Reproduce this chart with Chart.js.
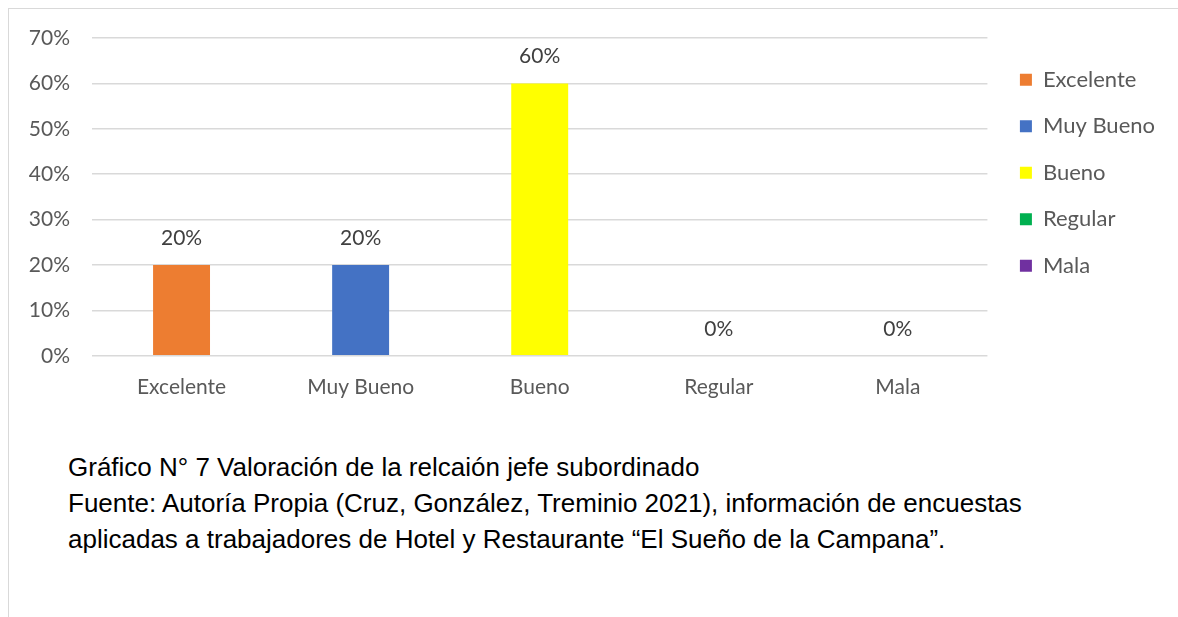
<!DOCTYPE html>
<html>
<head>
<meta charset="utf-8">
<script src="https://cdn.jsdelivr.net/npm/chart.js@4"></script>
<style>
  html, body { margin: 0; padding: 0; background: #fff; }
  body { width: 1178px; height: 617px; position: relative; overflow: hidden; }
  #frame { position: absolute; left: 8px; top: 8px; width: 1180px; height: 620px;
           border-left: 1px solid #d9d9d9; border-top: 1px solid #d9d9d9; }
  #wrap { position: absolute; left: 9px; top: 9px; width: 1169px; height: 402px; }
  #caption { position: absolute; left: 68px; top: 449px; font-family: "Liberation Sans", Arial, sans-serif;
             font-size: 26px; line-height: 36px; color: #000; white-space: nowrap; }
</style>
</head>
<body>
<div id="frame"></div>
<div id="wrap"><canvas id="c"></canvas></div>
<div id="caption">
  Gráfico N° 7 Valoración de la relcaión jefe subordinado<br>
  Fuente: Autoría Propia (Cruz, González, Treminio 2021), información de encuestas<br>
  aplicadas a trabajadores de Hotel y Restaurante “El Sueño de la Campana”.
</div>
<script>
const categories = ["Excelente", "Muy Bueno", "Bueno", "Regular", "Mala"];
const values = [20, 20, 60, 0, 0];
const colors = ["#ED7D31", "#4472C4", "#FFFF00", "#00B050", "#7030A0"];
const yTicks = [0, 10, 20, 30, 40, 50, 60, 70];

const FONT = "Lato, 'Open Sans', sans-serif";

const dataLabels = {
  id: 'dataLabels',
  afterDatasetsDraw(chart) {
    const ctx = chart.ctx;
    const meta = chart.getDatasetMeta(0);
    ctx.save();
    ctx.font = "21px " + FONT;
    ctx.fillStyle = "#404040";
    ctx.textAlign = "center";
    ctx.textBaseline = "middle";
    meta.data.forEach((bar, i) => {
      ctx.fillText(values[i] + "%", bar.x, bar.y - 27);
    });
    ctx.restore();
  }
};

new Chart(document.getElementById('c'), {
  type: 'bar',
  data: {
    labels: categories,
    datasets: [{
      data: values,
      backgroundColor: colors,
      borderWidth: 0,
      barPercentage: 0.318,
      categoryPercentage: 1.0
    }]
  },
  options: {
    responsive: true,
    maintainAspectRatio: false,
    animation: false,
    layout: { padding: { top: 29, left: 0, right: 13, bottom: 0 } },
    plugins: {
      tooltip: { enabled: false },
      legend: {
        position: 'right',
        align: 'start',
        title: { display: true, text: '', font: { size: 1 }, padding: { top: 5, bottom: 0 } },
        labels: {
          boxWidth: 12,
          boxHeight: 12,
          padding: 24.5,
          color: '#595959',
          font: { family: FONT, size: 22 },
          generateLabels() {
            return categories.map((c, i) => ({
              text: c,
              fillStyle: colors[i],
              strokeStyle: colors[i],
              lineWidth: 0,
              fontColor: '#595959',
              index: i
            }));
          }
        }
      }
    },
    scales: {
      x: {
        grid: { display: false },
        border: { display: false },
        ticks: { color: '#595959', font: { family: FONT, size: 21 }, padding: 11 }
      },
      y: {
        min: 0,
        max: 70,
        afterBuildTicks(scale) { scale.ticks = yTicks.map(v => ({ value: v })); },
        afterFit(scale) { scale.width = 83; scale.paddingTop = 0; scale.paddingBottom = 0; },
        grid: { color: '#d9d9d9', lineWidth: 1.5, drawTicks: false },
        border: { display: false },
        ticks: { color: '#595959', font: { family: FONT, size: 21 }, padding: 22,
                 callback: v => v + '%' }
      },
      gap: {
        type: 'linear',
        position: 'right',
        display: true,
        afterFit(scale) { scale.width = 8; scale.paddingTop = 0; scale.paddingBottom = 0; },
        grid: { display: false, drawOnChartArea: false, drawTicks: false },
        border: { display: false },
        ticks: { display: false }
      }
    }
  },
  plugins: [dataLabels]
});
</script>
</body>
</html>
